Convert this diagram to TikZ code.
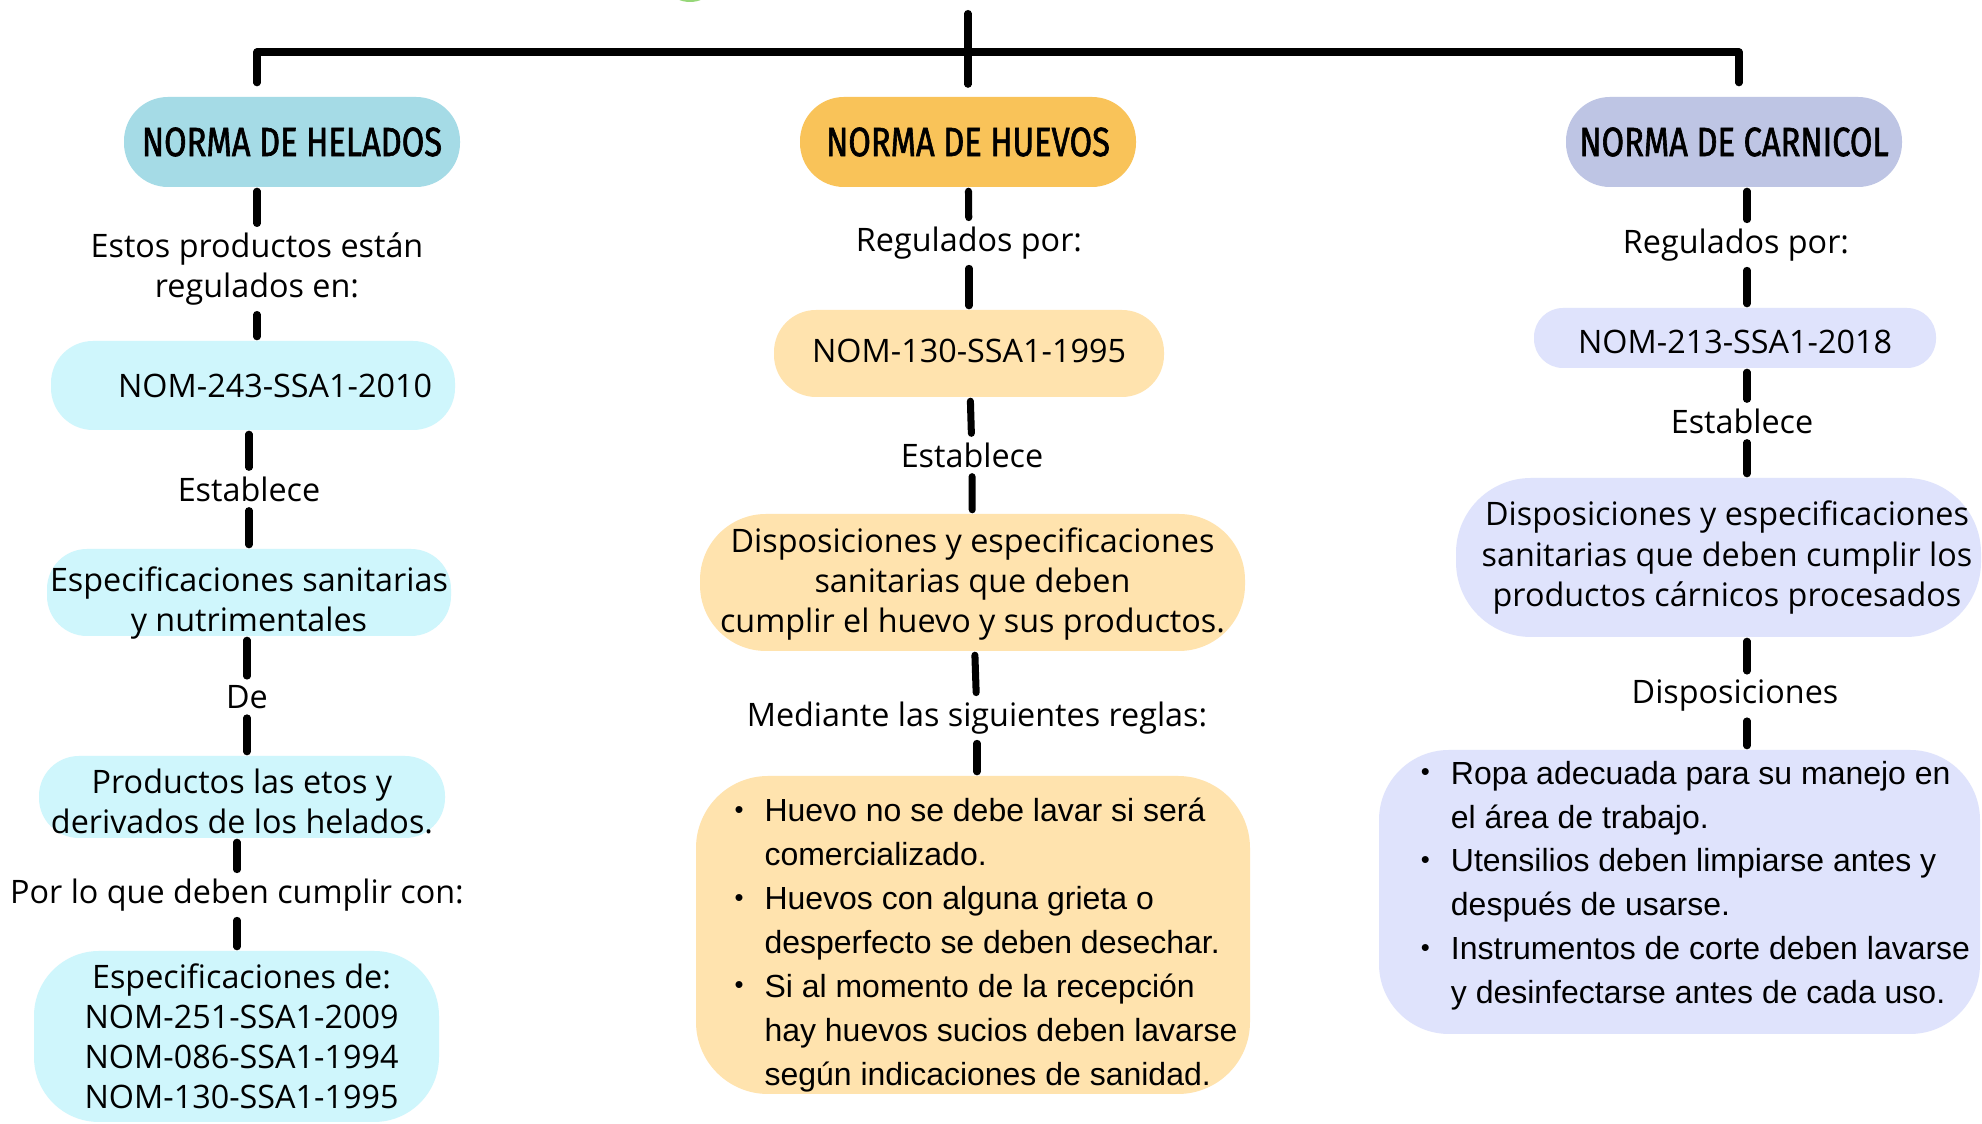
\documentclass[tikz,border=0pt]{standalone}
\usepackage{fontspec}
\setmainfont{Open Sans}
\newfontfamily\listfont{Liberation Sans}
\newfontfamily\headfont[FakeStretch=0.80,FakeBold=1.5]{Fira Sans}
\usepackage{xcolor}
\usepackage{tikz}
\definecolor{heladoshead}{RGB}{165,219,230}
\definecolor{heladosbox}{RGB}{207,246,252}
\definecolor{huevoshead}{RGB}{249,195,89}
\definecolor{huevosbox}{RGB}{255,227,174}
\definecolor{carnicolhead}{RGB}{190,197,228}
\definecolor{carnicolbox}{RGB}{223,227,252}
\definecolor{titlegreen}{RGB}{150,215,120}
\newcommand{\bodyfs}{\fontsize{9.2}{11.4}\selectfont}
\newcommand{\bul}{\makebox[0.30cm][l]{\raisebox{0.2ex}{\scalebox{0.8}{\textbullet}}}}
\newcommand{\listindent}{\hspace*{0.30cm}}
% #1 horizontal pad, #2 vertical shift, #3 lines
\newcommand{\placed}[3]{\hspace*{#1}\raisebox{#2}[0pt][0pt]{#3}}
\newcommand{\clines}[1]{\begin{tabular}{@{}c@{}}#1\end{tabular}}
\newcommand{\llines}[1]{\begin{tabular}{@{}l@{}}#1\end{tabular}}

\begin{document}
\begin{tikzpicture}[
  head/.style={rectangle, rounded corners=0.44cm, minimum width=3.36cm,
    minimum height=0.90cm, inner sep=0pt,
    font=\headfont\fontsize{11.6}{14}\selectfont},
  box/.style={rectangle, inner sep=0pt, align=center, font=\bodyfs},
  lbl/.style={inner sep=0.05cm, align=center, font=\bodyfs},
  list/.style={rectangle, inner sep=0pt, align=left,
    font=\listfont\fontsize{9.1}{12.5}\selectfont},
  link/.style={line width=2pt, line cap=round, shorten <=1pt, shorten >=1pt},
  bar/.style={line width=2pt, line cap=round, line join=round},
]
  \useasboundingbox (0,0) rectangle (19.82,-11.24);
  \clip (0,0) rectangle (19.82,-11.24);
  \fill[white] (0,0) rectangle (19.82,-11.24);
  \fill[titlegreen] (6.90,0.28) circle (0.30);

  % Headers
  \node[head, fill=heladoshead] (helH) at (2.92,-1.42) {NORMA DE HELADOS};
  \node[head, fill=huevoshead] (hueH) at (9.68,-1.42) {NORMA DE HUEVOS};
  \node[head, fill=carnicolhead] (carH) at (17.34,-1.42) {NORMA DE CARNICOL};

  % Top bar
  \coordinate (top) at (9.68,-0.135);
  \coordinate (barL) at (2.57,-0.52);
  \coordinate (barR) at (17.39,-0.52);
  \draw[bar, shorten <=0.135cm, shorten >=0.135cm]
    (helH.north -| barL) -- (barL) -- (barR) -- (carH.north -| barR);
  \draw[bar, shorten >=0.12cm] (top) -- (hueH);

  % Helados
  \node[lbl] (helReg) at (2.57,-2.69) {Estos productos están\\regulados en:};
  \node[box, fill=heladosbox, rounded corners=0.42cm, minimum width=4.04cm,
    minimum height=0.89cm] (nom243) at (2.53,-3.855) {\hspace*{0.44cm}NOM-243-SSA1-2010};
  \node[lbl] (helEst) at (2.49,-4.89) {Establece};
  \node[box, fill=heladosbox, rounded corners=0.40cm, minimum width=4.04cm,
    minimum height=0.87cm] (helSpec) at (2.49,-5.925)
    {\placed{0pt}{-5.3pt}{\clines{Especificaciones sanitarias\\y nutrimentales}}};
  \node[lbl] (helDe) at (2.47,-6.97) {De};
  \node[box, fill=heladosbox, rounded corners=0.40cm, minimum width=4.06cm,
    minimum height=0.82cm] (helProd) at (2.42,-7.97)
    {\placed{0pt}{-4.75pt}{\clines{Productos las etos y\\derivados de los helados.}}};
  \node[lbl] (helPor) at (2.37,-8.95) {Por lo que deben cumplir con:};
  \node[box, fill=heladosbox, rounded corners=0.65cm, minimum width=4.05cm,
    minimum height=1.71cm] (helNoms) at (2.365,-10.365)
    {\placed{0.10cm}{-3.3pt}{\clines{Especificaciones de:\\ NOM-251-SSA1-2009\\
     NOM-086-SSA1-1994\\NOM-130-SSA1-1995}}};

  \draw[link] (helH.south -| helReg) -- (helReg);
  \draw[link] (helReg) -- (helReg |- nom243.north);
  \draw[link] (nom243.south -| helEst) -- (helEst);
  \draw[link] (helEst) -- (helEst |- helSpec.north);
  \draw[link] (helSpec.south -| helDe) -- (helDe);
  \draw[link] (helDe) -- (helDe |- helProd.north);
  \draw[link] (helProd.south -| helPor) -- (helPor);
  \draw[link] (helPor) -- (helPor |- helNoms.north);

  % Huevos
  \node[lbl] (hueReg) at (9.69,-2.43) {Regulados por:};
  \node[box, fill=huevosbox, rounded corners=0.42cm, minimum width=3.90cm,
    minimum height=0.87cm] (nom130) at (9.69,-3.535)
    {\placed{0pt}{-2.6pt}{NOM-130-SSA1-1995}};
  \node[lbl] (hueEst) at (9.72,-4.55) {Establece};
  \node[box, fill=huevosbox, rounded corners=0.66cm, minimum width=5.45cm,
    minimum height=1.37cm] (hueDisp) at (9.725,-5.825)
    {\placed{0pt}{-2.8pt}{\clines{Disposiciones y especificaciones\\sanitarias que deben\\
     cumplir el huevo y sus productos.}}};
  \node[lbl] (hueMed) at (9.77,-7.18) {Mediante las siguientes reglas:};
  \node[list, fill=huevosbox, rounded corners=0.72cm, minimum width=5.54cm,
    minimum height=3.18cm] (hueList) at (9.73,-9.35)
    {\placed{0.26cm}{-5.0pt}{\llines{\bul Huevo no se debe lavar si será\\
     \listindent comercializado.\\
     \bul Huevos con alguna grieta o\\
     \listindent desperfecto se deben desechar.\\
     \bul Si al momento de la recepción\\
     \listindent hay huevos sucios deben lavarse\\
     \listindent según indicaciones de sanidad.}}};

  \draw[link] (hueH) -- (hueReg);
  \draw[link] (hueReg) -- (nom130);
  \draw[link] (nom130) -- (hueEst);
  \draw[link] (hueEst) -- (hueDisp);
  \draw[link] (hueDisp) -- (hueMed);
  \draw[link] (hueMed) -- (hueMed |- hueList.north);

  % Carnicol
  \node[lbl] (carReg) at (17.36,-2.45) {Regulados por:};
  \node[box, fill=carnicolbox, rounded corners=0.29cm, minimum width=4.02cm,
    minimum height=0.60cm] (nom213) at (17.35,-3.38)
    {\placed{0pt}{-4.4pt}{NOM-213-SSA1-2018}};
  \node[lbl] (carEst) at (17.42,-4.21) {Establece};
  \node[box, fill=carnicolbox, rounded corners=0.75cm, minimum width=5.25cm,
    minimum height=1.59cm] (carDisp) at (17.185,-5.575)
    {\placed{0.17cm}{-2.4pt}{\clines{Disposiciones y especificaciones\\
     sanitarias que deben cumplir los\\productos cárnicos procesados}}};
  \node[lbl] (carLbl) at (17.35,-6.96) {Disposiciones};
  \node[list, fill=carnicolbox, rounded corners=0.70cm, minimum width=6.01cm,
    minimum height=2.84cm] (carList) at (16.795,-8.92)
    {\placed{0.32cm}{-0.3pt}{\llines{\bul Ropa adecuada para su manejo en\\
     \listindent el área de trabajo.\\
     \bul Utensilios deben limpiarse antes y\\
     \listindent después de usarse.\\
     \bul Instrumentos de corte deben lavarse\\
     \listindent y desinfectarse antes de cada uso.}}};

  \coordinate (carAxis) at (17.47,-1.42);
  \draw[link] (carH.south -| carAxis) -- (carReg.north -| carAxis);
  \draw[link] (carReg.south -| carAxis) -- (nom213.north -| carAxis);
  \draw[link] (nom213.south -| carAxis) -- (carEst.north -| carAxis);
  \draw[link] (carEst.south -| carAxis) -- (carDisp.north -| carAxis);
  \draw[link] (carDisp.south -| carAxis) -- (carLbl.north -| carAxis);
  \draw[link] (carLbl.south -| carAxis) -- (carList.north -| carAxis);
\end{tikzpicture}
\end{document}
